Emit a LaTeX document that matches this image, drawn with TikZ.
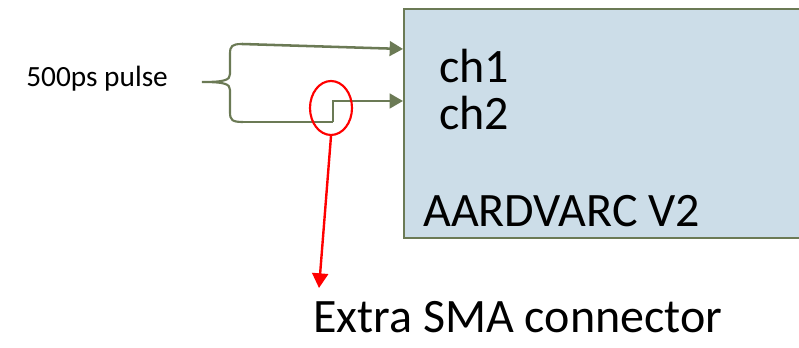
\documentclass[tikz,border=0pt]{standalone}
\usepackage{fontspec}
\setmainfont{Carlito}
\usetikzlibrary{arrows.meta,shapes.geometric}
\definecolor{olive}{HTML}{6B7A55}
\definecolor{boxfill}{HTML}{CCDDE8}
\tikzset{
  conn/.style={draw=olive, line width=1.9pt, -{Triangle[length=10pt,width=11pt]}},
  wire/.style={draw=olive, line width=1.9pt},
  lbl/.style={inner sep=0pt, anchor=base west},
}
\begin{document}
\begin{tikzpicture}[x=0.75pt,y=-0.75pt]
\useasboundingbox (0,0) rectangle (799,348);
\clip (0,0) rectangle (799,348);
\node[draw=olive, fill=boxfill, line width=1.2pt, minimum width=420*0.75pt, minimum height=229*0.75pt, anchor=north west, inner sep=0pt] (box) at (403,8) {};
\node[lbl, font=\fontsize{36}{36}\selectfont] (ch1) at (439,83) {ch1};
\node[lbl, font=\fontsize{36}{36}\selectfont] (ch2) at (439,130) {ch2};
\node[lbl, font=\fontsize{36}{36}\selectfont] (name) at (423,227) {AARDVARC V2};
\node[lbl, font=\fontsize{22}{22}\selectfont] (pulse) at (26,87) {500ps pulse};
\node[lbl, font=\fontsize{36}{36}\selectfont] (sma) at (313,333) {Extra SMA connector};
% brace
\coordinate (tip) at (202,82);
\coordinate (btop) at (242,44);
\coordinate (bbot) at (243,122);
\draw[wire, line width=1.6pt] (btop) .. controls (232,44) and (230,46) .. (230,54) -- (230,74) .. controls (230,80) and (225,82) .. (tip)
  .. controls (225,82) and (230,84) .. (230,90) -- (230,112) .. controls (230,120) and (232,122) .. (bbot);
\coordinate (in1) at (box.west |- 0,49);
\coordinate (in2) at (box.west |- 0,101);
\draw[conn] (btop) -- (in1);
\coordinate (kinkA) at (333,122);
\coordinate (kinkB) at (333,101);
\draw[wire] (bbot) -- (kinkA);
\draw[conn] (kinkA) -- (kinkB) -- (in2);
\node[draw=red, line width=1.6pt, ellipse, minimum width=42*0.75pt, minimum height=54*0.75pt, inner sep=0pt] (circ) at (331,108) {};
\coordinate (redend) at (319,288);
\draw[red, line width=1.8pt, -{Triangle[length=11pt,width=12pt]}] (circ.south) -- (redend);
\end{tikzpicture}
\end{document}
